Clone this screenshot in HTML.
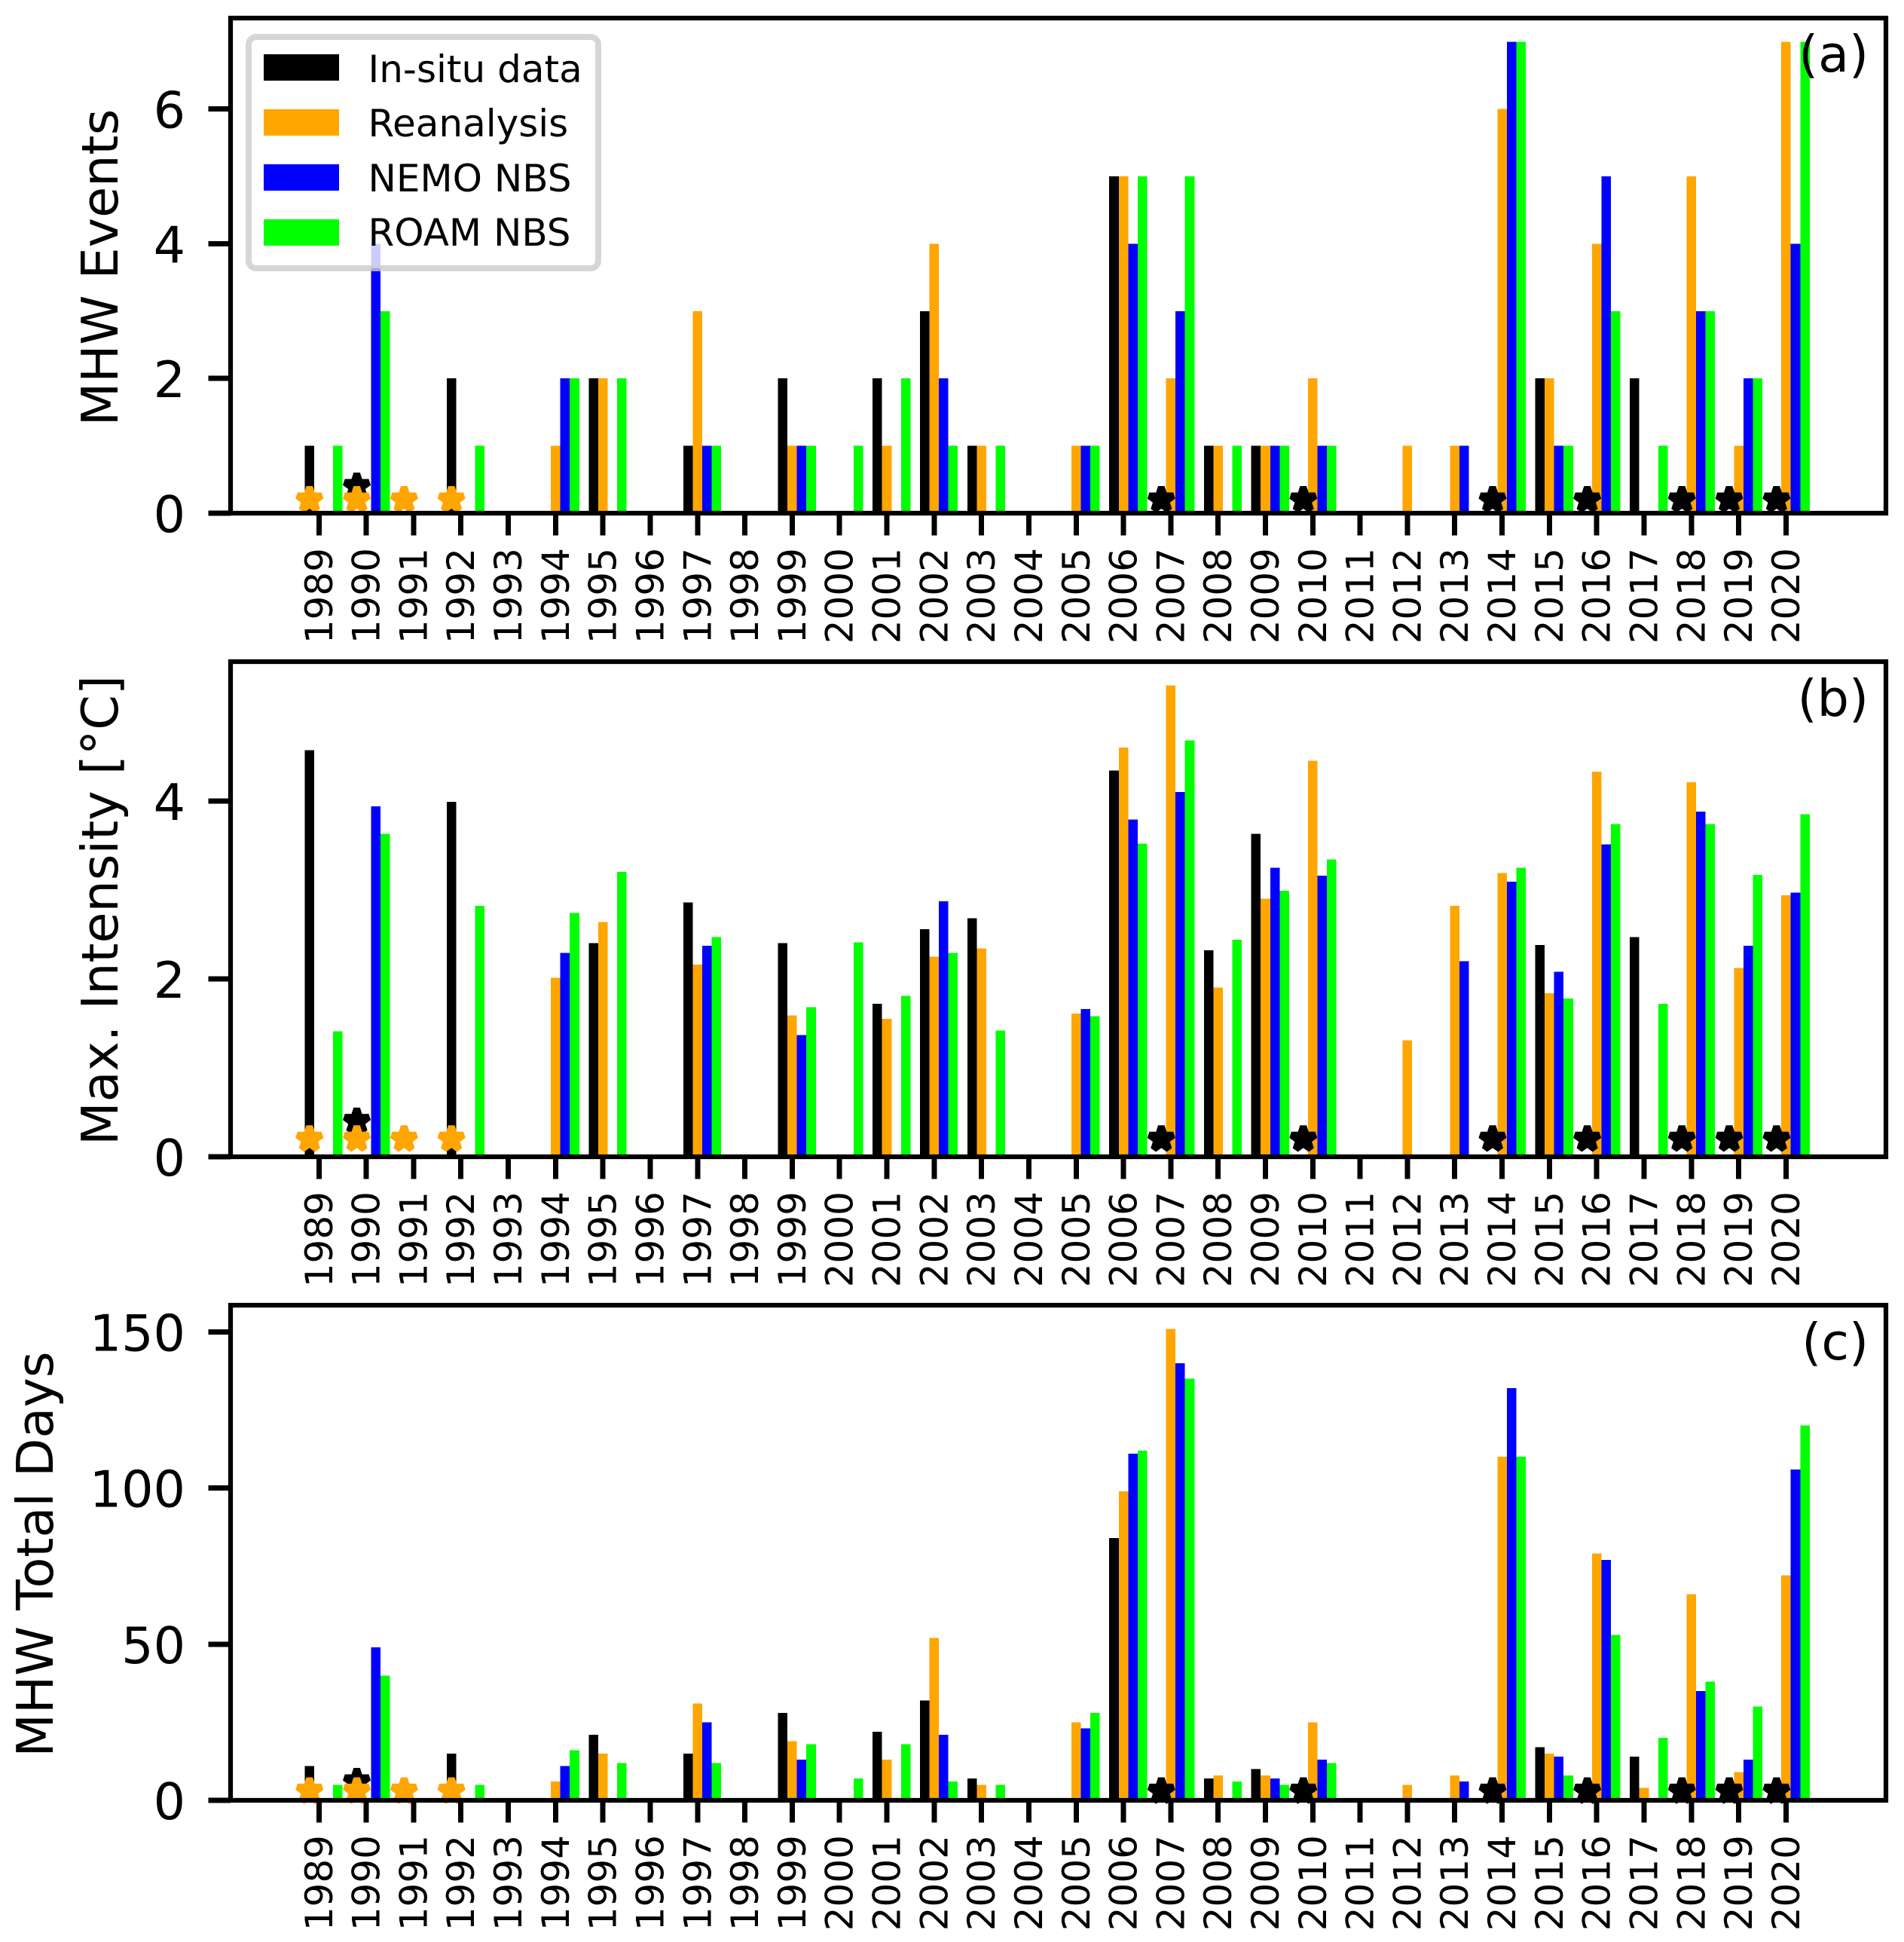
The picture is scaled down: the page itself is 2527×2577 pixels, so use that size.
<!DOCTYPE html>
<html lang="en">
<head>
<meta charset="utf-8">
<title>MHW statistics 1989-2020</title>
<style>
  html, body { margin: 0; padding: 0; background: #ffffff; }
  svg { display: block; }
  text { font-family: "DejaVu Sans", "Liberation Sans", sans-serif; fill: #000000; }
  .bar { shape-rendering: crispEdges; }
  .tick { shape-rendering: crispEdges; }
</style>
</head>
<body>
<svg id="figure" xmlns="http://www.w3.org/2000/svg" width="2527" height="2577" viewBox="0 0 2527 2577">
  <rect x="0" y="0" width="2527" height="2577" fill="#ffffff"/>

  <g id="panel-a">
    <g id="marks-a"></g>
    <g id="axis-a"></g>
    <rect x="306" y="24" width="2197" height="657" fill="none" stroke="#000000" stroke-width="6.25"/>
    <text transform="translate(156 355) rotate(-90)" font-size="66.7" text-anchor="middle">MHW Events</text>
    <text x="2480" y="95" font-size="66.7" text-anchor="end">(a)</text>
    <g>
      <rect x="330" y="49" width="464" height="307" rx="10" ry="10" fill="#ffffff" fill-opacity="0.8" stroke="#cccccc" stroke-opacity="0.8" stroke-width="8"/>
      <rect class="bar" x="350" y="72" width="100" height="35" fill="#000000"/>
      <text x="488.5" y="109" font-size="50">In-situ data</text>
      <rect class="bar" x="350" y="145" width="100" height="35" fill="#ffa500"/>
      <text x="488.5" y="181" font-size="50">Reanalysis</text>
      <rect class="bar" x="350" y="218" width="100" height="35" fill="#0000ff"/>
      <text x="488.5" y="254" font-size="50">NEMO NBS</text>
      <rect class="bar" x="350" y="291" width="100" height="35" fill="#00ff00"/>
      <text x="488.5" y="326" font-size="50">ROAM NBS</text>
    </g>
  </g>

  <g id="panel-b">
    <g id="marks-b"></g>
    <g id="axis-b"></g>
    <rect x="306" y="878" width="2197" height="657" fill="none" stroke="#000000" stroke-width="6.25"/>
    <text transform="translate(156 1208) rotate(-90)" font-size="66.7" text-anchor="middle">Max. Intensity [°C]</text>
    <text x="2480" y="950" font-size="66.7" text-anchor="end">(b)</text>
  </g>

  <g id="panel-c">
    <g id="marks-c"></g>
    <g id="axis-c"></g>
    <rect x="306" y="1732" width="2197" height="657" fill="none" stroke="#000000" stroke-width="6.25"/>
    <text transform="translate(70 2062.5) rotate(-90)" font-size="66.7" text-anchor="middle">MHW Total Days</text>
    <text x="2480" y="1804" font-size="66.7" text-anchor="end">(c)</text>
  </g>
</svg>

<script>
// ---------- categories ----------
const years = [1989,1990,1991,1992,1993,1994,1995,1996,1997,1998,1999,2000,2001,2002,2003,2004,2005,2006,2007,2008,2009,2010,2011,2012,2013,2014,2015,2016,2017,2018,2019,2020];

// ---------- panel (a): MHW events ----------
const insituEvents     = [1,0,0,2,0,0,2,0,1,0,2,0,2,3,1,0,0,5,0,1,1,0,0,0,0,0,2,0,2,0,0,0];
const reanalysisEvents = [0,0,0,0,0,1,2,0,3,0,1,0,1,4,1,0,1,5,2,1,1,2,0,1,1,6,2,4,0,5,1,7];
const nemoEvents       = [0,4,0,0,0,2,0,0,1,0,1,0,0,2,0,0,1,4,3,0,1,1,0,0,1,7,1,5,0,3,2,4];
const roamEvents       = [1,3,0,1,0,2,2,0,1,0,1,1,2,1,1,0,1,5,5,1,1,1,0,0,0,7,1,3,1,3,2,7];

// ---------- panel (b): max intensity ----------
const insituIntensity     = [4.57,0,0,3.99,0,0,2.40,0,2.86,0,2.40,0,1.72,2.56,2.68,0,0,4.34,0,2.32,3.63,0,0,0,0,0,2.38,0,2.47,0,0,0];
const reanalysisIntensity = [0,0,0,0,0,2.01,2.64,0,2.16,0,1.59,0,1.55,2.25,2.34,0,1.61,4.60,5.30,1.90,2.90,4.45,0,1.31,2.82,3.19,1.84,4.33,0,4.21,2.12,2.94];
const nemoIntensity       = [0,3.94,0,0,0,2.29,0,0,2.37,0,1.37,0,0,2.87,0,0,1.66,3.79,4.10,0,3.25,3.16,0,0,2.20,3.09,2.08,3.51,0,3.88,2.37,2.97];
const roamIntensity       = [1.41,3.63,0,2.82,0,2.74,3.20,0,2.47,0,1.68,2.41,1.81,2.29,1.42,0,1.58,3.52,4.68,2.44,2.99,3.34,0,0,0,3.25,1.78,3.74,1.72,3.74,3.17,3.85];

// ---------- panel (c): total days ----------
const insituDays     = [11,0,0,15,0,0,21,0,15,0,28,0,22,32,7,0,0,84,0,7,10,0,0,0,0,0,17,0,14,0,0,0];
const reanalysisDays = [0,0,0,0,0,6,15,0,31,0,19,0,13,52,5,0,25,99,151,8,8,25,0,5,8,110,15,79,4,66,9,72];
const nemoDays       = [0,49,0,0,0,11,0,0,25,0,13,0,0,21,0,0,23,111,140,0,7,13,0,0,6,132,14,77,0,35,13,106];
const roamDays       = [5,40,0,5,0,16,12,0,12,0,18,7,18,6,5,0,28,112,135,6,5,12,0,0,0,110,8,53,20,38,30,120];

// ---------- star markers ----------
const blackStarYears     = [1990,2007,2010,2014,2016,2018,2019,2020];
const blackStarEvents    = [0.4,0.2,0.2,0.2,0.2,0.2,0.2,0.2];
const blackStarIntensity = [0.4,0.2,0.2,0.2,0.2,0.2,0.2,0.2];
const blackStarDays      = [6,3,3,3,3,3,3,3];
const orangeStarYears     = [1989,1990,1991,1992];
const orangeStarEvents    = [0.2,0.2,0.2,0.2];
const orangeStarIntensity = [0.2,0.2,0.2,0.2];
const orangeStarDays      = [3,3,3,3];

// ---------- tick labels ----------
const eventsTicks = [0,2,4,6];
const intensityTicks = [0,2,4];
const daysTicks = [0,50,100,150];

// ---------- layout and axis functions ----------
const SVG_NS = 'http://www.w3.org/2000/svg';
const PLOT_TOP_MARGIN = 1.05;
const X_ORIGIN = 423.3;
const X_STEP = 62.81;
const BAR_WIDTH = 0.2;

function xScale(year) {
  return X_ORIGIN + (year - years[0]) * X_STEP;
}
function yScale(panel, value) {
  return panel.bottom - (value / panel.yMax) * (panel.bottom - panel.top);
}
function make(tag, attrs) {
  const el = document.createElementNS(SVG_NS, tag);
  for (const k in attrs) el.setAttribute(k, attrs[k]);
  return el;
}
function starPoints(cx, cy) {
  const R = 16.7, r = R * 0.381966, pts = [];
  for (let i = 0; i < 10; i++) {
    const a = -Math.PI / 2 + i * Math.PI / 5;
    const rad = i % 2 === 0 ? R : r;
    pts.push((cx + rad * Math.cos(a)).toFixed(2) + ',' + (cy + rad * Math.sin(a)).toFixed(2));
  }
  return pts.join(' ');
}

function drawPanel(cfg) {
  const all = cfg.series.reduce((acc, s) => acc.concat(s.values), []);
  const panel = { top: cfg.top, bottom: cfg.bottom, yMax: Math.max.apply(null, all) * PLOT_TOP_MARGIN };
  const marks = document.getElementById('marks-' + cfg.id);
  const axis = document.getElementById('axis-' + cfg.id);

  // bars
  cfg.series.forEach(function (s) {
    s.values.forEach(function (v, i) {
      const cx = xScale(years[i]) + s.offset * BAR_WIDTH * X_STEP;
      const y = yScale(panel, v);
      const bar = make('rect', {
        class: 'bar',
        x: (cx - BAR_WIDTH * X_STEP / 2).toFixed(2),
        y: y.toFixed(2),
        width: (BAR_WIDTH * X_STEP).toFixed(2),
        height: (panel.bottom - y).toFixed(2),
        fill: s.color
      });
      
      
      marks.appendChild(bar);
    });
  });

  // stars: black first, orange on top
  cfg.blackStars.forEach(function (v, i) {
    const star = make('polygon', {
      points: starPoints(xScale(blackStarYears[i]) + -1 * BAR_WIDTH * X_STEP, yScale(panel, v)),
      fill: '#000000', stroke: '#000000', 'stroke-width': 9, 'stroke-linejoin': 'bevel'
    });
    
    
    marks.appendChild(star);
  });
  cfg.orangeStars.forEach(function (v, i) {
    const star = make('polygon', {
      points: starPoints(xScale(orangeStarYears[i]) + -1 * BAR_WIDTH * X_STEP, yScale(panel, v)),
      fill: '#ffa500', stroke: '#ffa500', 'stroke-width': 9, 'stroke-linejoin': 'bevel'
    });
    
    
    marks.appendChild(star);
  });

  // x axis ticks and labels
  years.forEach(function (yr) {
    const x = xScale(yr);
    const tick = make('line', { class: 'tick', x1: x, x2: x, y1: panel.bottom, y2: panel.bottom + 29.5, stroke: '#000000', 'stroke-width': 7 });
    
    
    axis.appendChild(tick);
    const label = make('text', {
      transform: 'translate(' + (x + 17.5).toFixed(2) + ' ' + (panel.bottom + 46) + ') rotate(-90)',
      'font-size': 50,
      'text-anchor': 'end'
    });
    label.textContent = String(yr);
    
    
    axis.appendChild(label);
  });

  // y axis ticks and labels
  cfg.yTicks.forEach(function (t) {
    const y = yScale(panel, t);
    const tick = make('line', { class: 'tick', x1: 306 - 29.5, x2: 306, y1: y, y2: y, stroke: '#000000', 'stroke-width': 7 });
    
    
    axis.appendChild(tick);
    const label = make('text', { x: 246, y: (y + 25).toFixed(2), 'font-size': 66.7, 'text-anchor': 'end' });
    label.textContent = String(t);
    
    
    axis.appendChild(label);
  });
}

function seriesFor(insitu, reanalysis, nemo, roam) {
  return [
    { key: 'in-situ', color: '#000000', offset: -1, values: insitu },
    { key: 'reanalysis', color: '#ffa500', offset: 0, values: reanalysis },
    { key: 'nemo', color: '#0000ff', offset: 1, values: nemo },
    { key: 'roam', color: '#00ff00', offset: 2, values: roam }
  ];
}

drawPanel({ id: 'a', top: 24, bottom: 681,
  series: seriesFor(insituEvents, reanalysisEvents, nemoEvents, roamEvents),
  blackStars: blackStarEvents, orangeStars: orangeStarEvents, yTicks: eventsTicks });
drawPanel({ id: 'b', top: 878, bottom: 1535,
  series: seriesFor(insituIntensity, reanalysisIntensity, nemoIntensity, roamIntensity),
  blackStars: blackStarIntensity, orangeStars: orangeStarIntensity, yTicks: intensityTicks });
drawPanel({ id: 'c', top: 1732, bottom: 2389,
  series: seriesFor(insituDays, reanalysisDays, nemoDays, roamDays),
  blackStars: blackStarDays, orangeStars: orangeStarDays, yTicks: daysTicks });
</script>
</body>
</html>
